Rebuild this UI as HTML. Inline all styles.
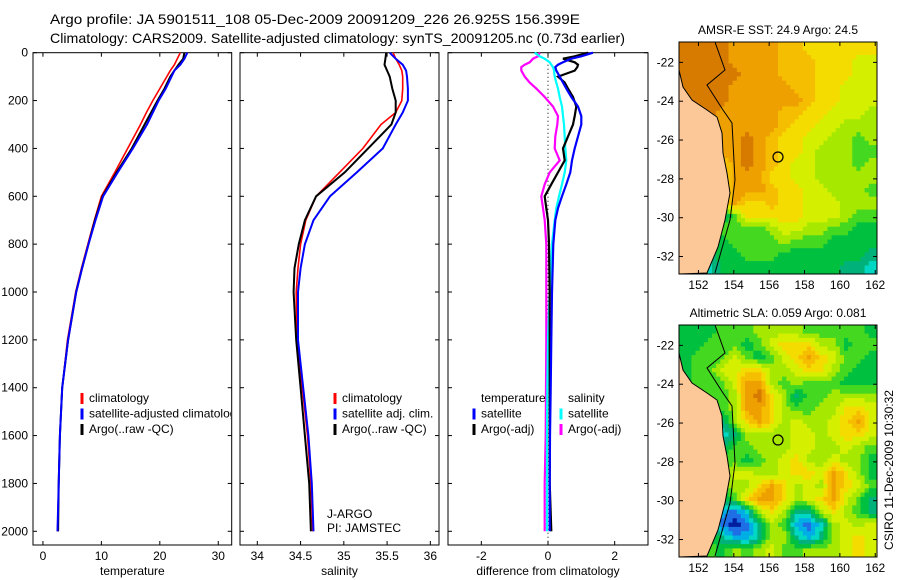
<!DOCTYPE html>
<html><head><meta charset="utf-8"><style>
html,body{margin:0;padding:0;background:#fff;}
svg{display:block;font-family:"Liberation Sans",sans-serif;}
</style></head><body>
<svg id="fig" width="900" height="580" viewBox="0 0 900 580">
<text x="50" y="24" font-size="14" textLength="530" lengthAdjust="spacingAndGlyphs">Argo profile: JA 5901511_108 05-Dec-2009 20091209_226 26.925S 156.399E</text>
<text x="50" y="43" font-size="14" textLength="575" lengthAdjust="spacingAndGlyphs">Climatology: CARS2009. Satellite-adjusted climatology: synTS_20091205.nc (0.73d earlier)</text>
<text x="0" y="0" font-size="12" transform="translate(893,470) rotate(-90)" text-anchor="middle">CSIRO 11-Dec-2009 10:30:32</text>
<g id="plots"></g>
</svg>
<script>
// ---- profile data ----
const depths = [0,25,50,75,100,150,200,250,300,400,500,600,700,800,900,1000,1200,1400,1600,1800,2000];
const tempClim = [23.5,23.0,22.5,21.8,21.2,20.0,18.8,17.7,16.7,14.5,12.3,10.0,8.8,7.7,6.6,5.6,4.2,3.3,2.9,2.7,2.5];
const tempSat = [24.7,24.2,23.5,22.5,22.0,21.0,19.8,18.8,17.8,15.4,12.8,10.3,9.0,7.8,6.7,5.7,4.3,3.3,2.9,2.7,2.5];
const tempArgo = [24.2,24.0,23.2,22.5,21.8,20.8,19.6,18.5,17.4,15.2,12.6,10.2,8.9,7.8,6.7,5.7,4.3,3.3,2.9,2.7,2.6];
const salClim = [35.57,35.6,35.64,35.67,35.68,35.68,35.67,35.6,35.43,35.22,34.95,34.68,34.56,34.5,34.47,34.45,34.46,34.52,34.58,34.62,34.64];
const salSat = [35.53,35.6,35.68,35.72,35.73,35.74,35.74,35.68,35.6,35.45,35.15,34.84,34.65,34.55,34.5,34.47,34.47,34.53,34.59,34.63,34.65];
const salArgo = [35.49,35.48,35.47,35.5,35.53,35.56,35.6,35.6,35.55,35.28,35.01,34.68,34.55,34.48,34.43,34.42,34.45,34.5,34.55,34.6,34.62];
const diffDepths = [0,15,25,40,50,60,75,100,125,150,185,225,265,300,350,400,450,500,550,600,650,700,800,1000,1200,1400,1600,1800,2000];
const tempSatDiff = [1.35,1.0,0.7,0.45,0.3,0.22,0.25,0.35,0.45,0.55,0.7,0.9,1.0,1.0,0.9,0.8,0.72,0.67,0.55,0.42,0.3,0.22,0.16,0.12,0.1,0.08,0.06,0.05,0.05];
const tempArgoDiff = [1.2,0.8,0.45,0.8,0.9,0.88,0.8,0.3,0.5,0.6,0.75,0.85,0.8,0.75,0.6,0.45,0.5,0.3,0.1,-0.1,-0.05,0.0,0.03,0.05,0.05,0.05,0.05,0.05,0.1];
const salSatDiff = [-0.4,-0.25,-0.1,0.05,0.1,0.15,0.18,0.2,0.25,0.3,0.35,0.42,0.45,0.48,0.5,0.52,0.55,0.5,0.42,0.33,0.25,0.2,0.12,0.05,0,-0.02,-0.03,-0.03,-0.03];
const salArgoDiff = [-0.25,-0.3,-0.45,-0.55,-0.7,-0.8,-0.8,-0.7,-0.55,-0.35,-0.1,0.15,0.3,0.28,0.22,0.2,0.35,0.05,-0.1,-0.2,-0.15,-0.1,-0.05,-0.05,-0.05,-0.06,-0.07,-0.1,-0.1];
const depthTicks = [0,200,400,600,800,1000,1200,1400,1600,1800,2000];
const tempTicks = [0,10,20,30];
const salTicks = [34,34.5,35,35.5,36];
const diffTicks = [-2,0,2];
const lonTicks = [152,154,156,158,160,162];
const latTicks = [-22,-24,-26,-28,-30,-32];
// map colour grids (16 cols x 18 rows), chars index a colour ramp
const sstGrid = [
"DDDDOOOOooYYYYYY","DDDDOOOOoooYYYyy","DDDDDOOOoooYYYyy","DDDDOOOOOooYYyyy","DDDDOOOOOOoYYyyy","DDDOOOOOooYYyyyL",
"DDDOOOOOoYYyyLLL","DDOOODOoYYyyLLGL","DDOOODOoYYyLLLGG","DDOYODOoYyyLLLGL","DDOYOOOYYyyLLLLL","DDoyOOOoYYyyLLLG",
"DDgyOYYoYYyyyLLL","DDgTGYYYYYyyyLGG","DDTGGGGLyyLLGGgg","DDTgGGGGLGGGgggg","DDTggGGGgggggggT","DDCggggggggggTTC"];
const slaGrid = [
"gggGGGLLLLGGGGGg","ggGGGgGyYYYLLgGG","gGGGyGgGyYOYyGGg","gGGyyYYLLyYYLGgg","gGGGyOOLGLGGGggg","gGGGLODYLTGGLLLL",
"gGGGLOOYLGGLLYYy","gGGTLYOYLyLLyYOy","gGGCTLLLLyyLyYYy","gGGTGGLLLyyLLyLG","gGGGGgGLyYLLyLLg","gGGGyyLLyYYyOYLg",
"gGgGLLYOYLyLOYyG","gGgTGYOOYLyYOyGT","gGGBbCLYLTTLYLGT","gGGbNbTLGBbCLyLy","gGGTBBTLLTBTLyYy","gGGgLGLyGGLLLyYy"];

const NS="http://www.w3.org/2000/svg";
const root=document.getElementById('plots');
function mk(tag,attrs,parent){const e=document.createElementNS(NS,tag);for(const k in attrs)e.setAttribute(k,attrs[k]);(parent||root).appendChild(e);return e;}
const top0=52.7, bot=545, pxm=0.2393;
const yD=d=>top0+d*pxm;

function panel(name,x0,x1,vmin,vmax,ticks,label,showY){
  const g=mk('g',{});
  
  
  const sx=v=>x0+(v-vmin)/(vmax-vmin)*(x1-x0);
  const r=mk('rect',{x:x0,y:top0,width:x1-x0,height:bot-top0,fill:'#fff',stroke:'#000','stroke-width':1},g);
  
  
  ticks.forEach(t=>{
    const x=sx(t);
    mk('line',{x1:x,x2:x,y1:bot,y2:bot-4,stroke:'#000'},g);
    mk('line',{x1:x,x2:x,y1:top0,y2:top0+4,stroke:'#000'},g);
    const tx=mk('text',{x:x,y:bot+15,'font-size':12,'text-anchor':'middle'},g);
    tx.textContent=t;
    
    
  });
  depthTicks.forEach(d=>{
    const y=yD(d);
    mk('line',{x1:x0,x2:x0+4,y1:y,y2:y,stroke:'#000'},g);
    mk('line',{x1:x1,x2:x1-4,y1:y,y2:y,stroke:'#000'},g);
    if(showY){const tx=mk('text',{x:x0-5,y:y+4,'font-size':12,'text-anchor':'end'},g);tx.textContent=d;
      
      }
  });
  const xl=mk('text',{x:(x0+x1)/2,y:bot+30,'font-size':12,'text-anchor':'middle'},g);
  xl.textContent=label;
  
  
  return {g,sx};
}
function series(p,name,ds,vals,color,w){
  const pts=ds.map((d,i)=>p.sx(vals[i]).toFixed(1)+','+yD(d).toFixed(1)).join(' ');
  const l=mk('polyline',{points:pts,fill:'none',stroke:color,'stroke-width':w},p.g);
  
  
}
function legend(p,x,y,items){
  items.forEach((it,i)=>{
    const yy=y+i*15.5;
    const m=mk('line',{x1:x,x2:x,y1:yy-9,y2:yy+2,stroke:it[1],'stroke-width':3},p.g);
    
    
    const t=mk('text',{x:x+7,y:yy,'font-size':12},p.g);
    t.textContent=it[0];
    
    
  });
}

// panel 1 temperature
const p1=panel('temperature-panel',33,231.7,-1.7,32.3,tempTicks,'temperature',true);
series(p1,'temp-climatology-line',depths,tempClim,'#f00',1.6);
series(p1,'temp-argo-line',depths,tempArgo,'#000',2);
series(p1,'temp-satellite-line',depths,tempSat,'#00f',2);
const clip=mk('clipPath',{id:'c1'});mk('rect',{x:33,y:53,width:198,height:492},clip);
const lg1=mk('g',{'clip-path':'url(#c1)'},p1.g);
legend({g:lg1},82,402,[['climatology','#f00'],['satellite-adjusted climatology','#00f'],['Argo(..raw -QC)','#000']]);

// panel 2 salinity
const p2=panel('salinity-panel',240,439,33.8,36.1,salTicks,'salinity',false);
series(p2,'sal-climatology-line',depths,salClim,'#f00',1.6);
series(p2,'sal-argo-line',depths,salArgo,'#000',2);
series(p2,'sal-satellite-line',depths,salSat,'#00f',2);
legend(p2,335,402,[['climatology','#f00'],['satellite adj. clim.','#00f'],['Argo(..raw -QC)','#000']]);
const ja=mk('text',{x:327,y:518,'font-size':12},p2.g);ja.textContent='J-ARGO';


const pi=mk('text',{x:327,y:532,'font-size':12},p2.g);pi.textContent='PI: JAMSTEC';



// panel 3 differences
const p3=panel('difference-panel',448,648,-3.0,3.0,diffTicks,'difference from climatology',false);
mk('line',{x1:p3.sx(0),x2:p3.sx(0),y1:top0,y2:bot,stroke:'#000','stroke-dasharray':'1,3'},p3.g);
series(p3,'sal-argo-diff-line',diffDepths,salArgoDiff,'#f0f',2.2);
series(p3,'sal-satellite-diff-line',diffDepths,salSatDiff,'#0ff',2.2);
series(p3,'temp-argo-diff-line',diffDepths,tempArgoDiff,'#000',2.2);
series(p3,'temp-satellite-diff-line',diffDepths,tempSatDiff,'#00f',2.2);
legend(p3,474,402,[['temperature','#fff'],['satellite','#00f'],['Argo(-adj)','#000']]);
legend(p3,561,402,[['salinity','#fff'],['satellite','#0ff'],['Argo(-adj)','#f0f']]);

// maps
const ramp="NbBCTgGLyYoOD";
const rampCol=['#001e9e','#1e6ee6','#00aee6','#00d8c4','#00b27a','#00c040','#44d820','#a6e800','#d4f000','#f4dc00','#f6be00','#eea000','#d67a00'];
const coast=[[679,70],[683,87],[692,100],[707,110],[717,117],[722,133],[723,153],[727,173],[730,193],[725,220],[718,247],[707,273]];
const iso=[[715,42],[725,70],[707,85],[723,110],[732,123],[735,180],[730,220],[715,273]];
function map(name,title,top,grid){
  const mx0=679,mx1=877,h=232,b=top+h;
  const g=mk('g',{});
  
  
  const v=grid.map(row=>row.split('').map(c=>ramp.indexOf(c)));
  const NX=48,NY=54,cw=(mx1-mx0)/NX,ch=h/NY;
  for(let j=0;j<NY;j++)for(let i=0;i<NX;i++){
    const fx=Math.min(Math.max((i+0.5)/NX*16-0.5,0),15),fy=Math.min(Math.max((j+0.5)/NY*18-0.5,0),17);
    const x0=Math.floor(fx),y0=Math.floor(fy),x1=Math.min(x0+1,15),y1=Math.min(y0+1,17),tx=fx-x0,ty=fy-y0;
    const val=(v[y0][x0]*(1-tx)+v[y0][x1]*tx)*(1-ty)+(v[y1][x0]*(1-tx)+v[y1][x1]*tx)*ty;
    mk('rect',{x:(mx0+i*cw).toFixed(1),y:(top+j*ch).toFixed(1),width:(cw+0.5).toFixed(1),height:(ch+0.5).toFixed(1),fill:rampCol[Math.round(val)]},g);
  }
  const off=top-42;
  const land=coast.map(p=>p[0]+','+(p[1]+off)).join(' ')+' '+mx0+','+b;
  const lp=mk('polygon',{points:land,fill:'#fcc898',stroke:'#000','stroke-width':1},g);
  
  
  mk('polyline',{points:iso.map(p=>p[0]+','+(p[1]+off)).join(' '),fill:'none',stroke:'#000','stroke-width':1},g);
  const ci=mk('circle',{cx:778,cy:157+off,r:5,fill:'none',stroke:'#000','stroke-width':1.2},g);
  
  
  mk('rect',{x:mx0,y:top,width:mx1-mx0,height:h,fill:'none',stroke:'#000'},g);
  const sx=l=>mx0+(l-150.9)/(162.1-150.9)*(mx1-mx0);
  const sy=l=>top+(-20.95-l)/(32.9-20.95)*h;
  lonTicks.forEach(l=>{const x=sx(l);mk('line',{x1:x,x2:x,y1:b,y2:b-4,stroke:'#000'},g);mk('line',{x1:x,x2:x,y1:top,y2:top+4,stroke:'#000'},g);
    const t=mk('text',{x:x,y:b+15,'font-size':12,'text-anchor':'middle'},g);t.textContent=l;
    
    });
  latTicks.forEach(l=>{const y=sy(l);mk('line',{x1:mx0,x2:mx0+4,y1:y,y2:y,stroke:'#000'},g);mk('line',{x1:mx1,x2:mx1-4,y1:y,y2:y,stroke:'#000'},g);
    const t=mk('text',{x:mx0-5,y:y+4,'font-size':12,'text-anchor':'end'},g);t.textContent=l;
    
    });
  const tt=mk('text',{x:(mx0+mx1)/2,y:top-8,'font-size':12,'text-anchor':'middle'},g);tt.textContent=title;
  
  
}
map('sst-map','AMSR-E SST: 24.9 Argo: 24.5',42,sstGrid);
map('sla-map','Altimetric SLA: 0.059 Argo: 0.081',325,slaGrid);
</script>
</body></html>
